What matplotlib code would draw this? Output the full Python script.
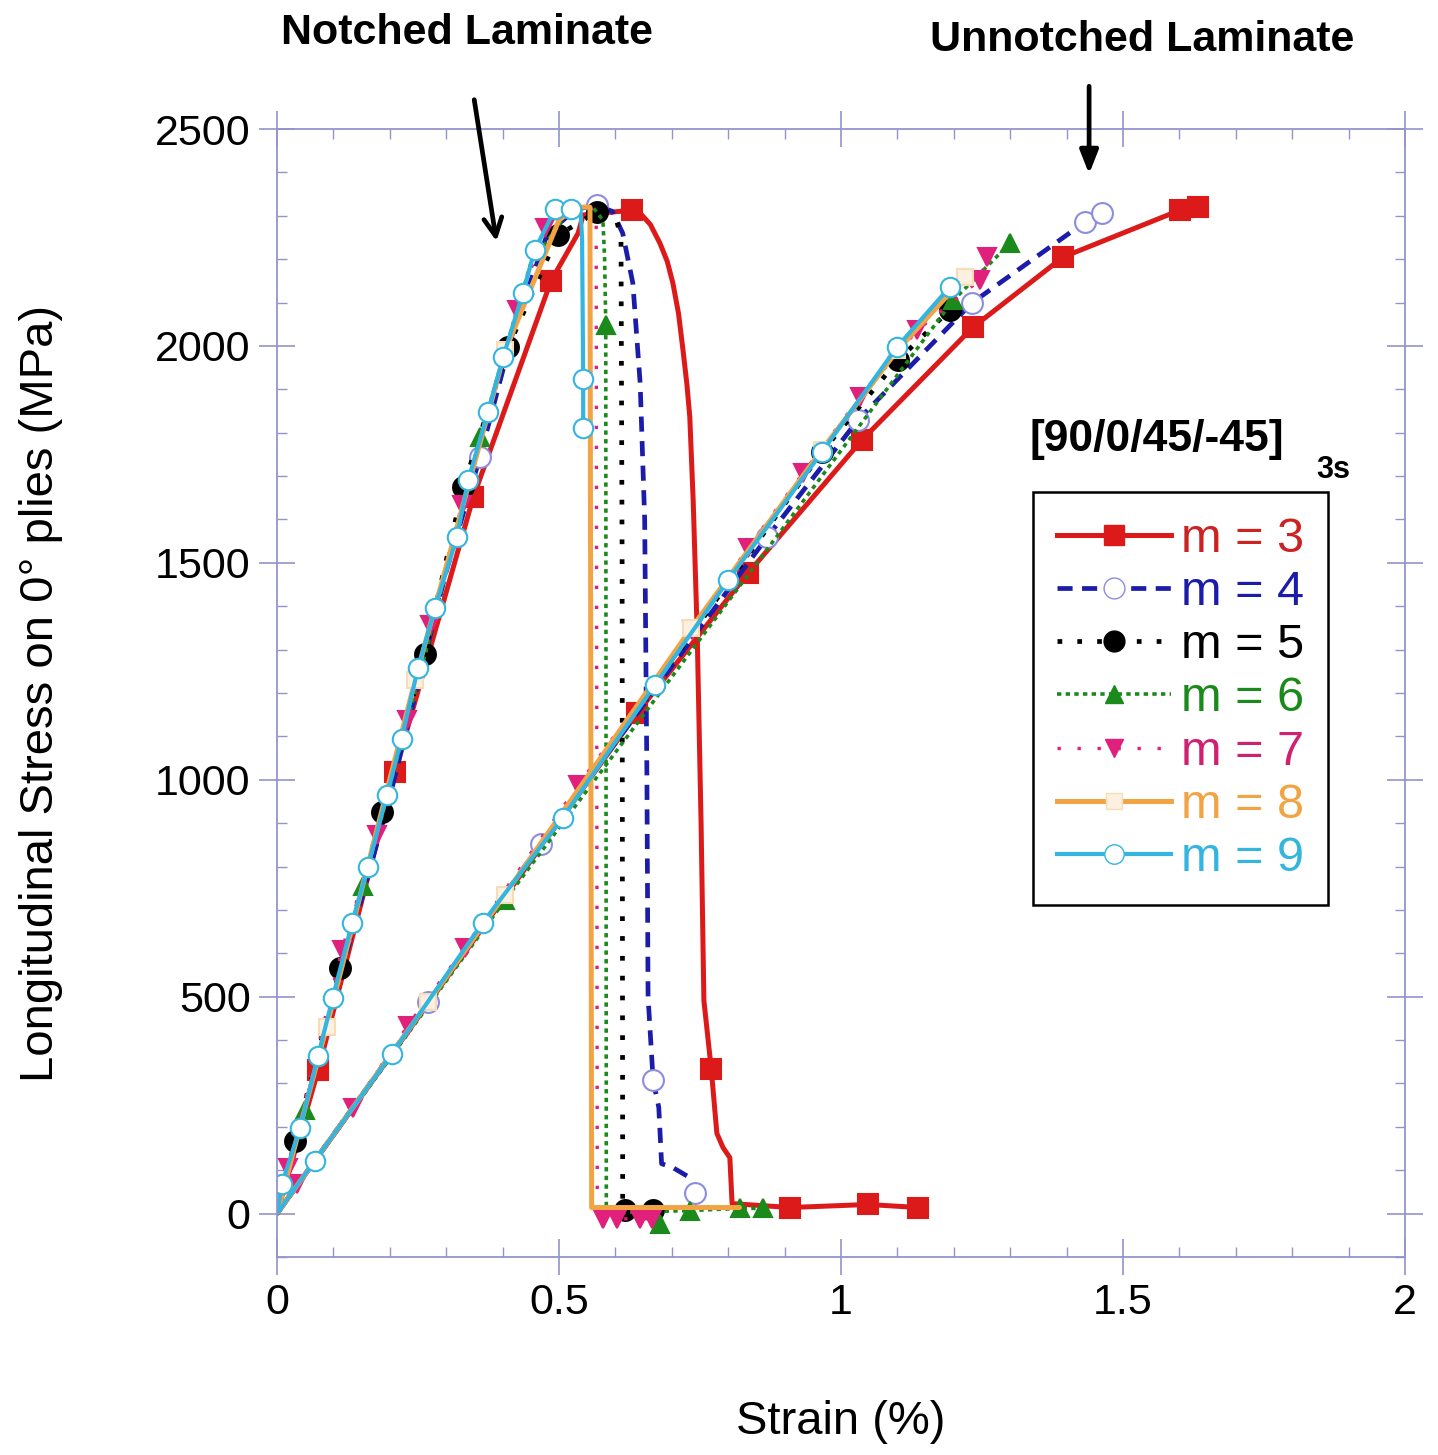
import matplotlib
matplotlib.use("Agg")
import matplotlib.pyplot as plt
from matplotlib.lines import Line2D
from matplotlib.ticker import MultipleLocator

plt.rcParams['font.family'] = ['Liberation Sans', 'DejaVu Sans']

# ---------------- data ----------------
labels = ["m = 3", "m = 4", "m = 5", "m = 6", "m = 7", "m = 8", "m = 9"]

# m = 3
m3_notch_x = [0, 0.073, 0.209, 0.348, 0.486, 0.534, 0.543, 0.629, 0.644, 0.662, 0.679, 0.692, 0.702, 0.712, 0.720, 0.727,
              0.732, 0.738, 0.745, 0.752, 0.757, 0.770, 0.780, 0.791, 0.803, 0.807, 0.910, 1.048, 1.137]
m3_notch_y = [0, 330, 1017, 1651, 2150, 2260, 2302, 2313, 2306, 2280, 2237, 2195, 2145, 2075, 1990, 1910,
              1836, 1644, 1345, 900, 491, 334, 185, 152, 129, 23, 14, 21, 14]
m3_notch_mx = [0.073, 0.209, 0.348, 0.486, 0.629, 0.770, 0.910, 1.048, 1.137]
m3_notch_my = [330, 1017, 1651, 2150, 2313, 334, 14, 21, 14]
m3_unnot_x = [0, 0.638, 0.835, 1.037, 1.234, 1.394, 1.601, 1.633]
m3_unnot_y = [0, 1153, 1476, 1783, 2043, 2205, 2313, 2320]

# m = 4
m4_notch_x = [0, 0.100, 0.200, 0.300, 0.360, 0.420, 0.480, 0.530, 0.567, 0.595, 0.613, 0.631, 0.644, 0.652,
              0.656, 0.658, 0.667, 0.677, 0.682, 0.702, 0.732, 0.741, 0.750]
m4_notch_y = [0, 490, 960, 1480, 1744, 2040, 2260, 2315, 2325, 2310, 2260, 2145, 1914, 1600,
              1000, 500, 307, 245, 115, 106, 83, 48, 10]
m4_notch_mx = [0.360, 0.567, 0.667, 0.741]
m4_notch_my = [1744, 2325, 307, 48]
m4_unnot_x = [0, 0.268, 0.468, 0.869, 1.030, 1.232, 1.433, 1.463]
m4_unnot_y = [0, 487, 853, 1559, 1829, 2099, 2286, 2306]

# m = 5
m5_notch_x = [0, 0.032, 0.112, 0.186, 0.262, 0.330, 0.410, 0.498, 0.567, 0.600, 0.610, 0.612, 0.613, 0.617, 0.667]
m5_notch_y = [0, 168, 565, 925, 1291, 1674, 1997, 2255, 2309, 2300, 2250, 1500, 10, 8, 8]
m5_notch_mx = [0.032, 0.112, 0.186, 0.262, 0.330, 0.410, 0.498, 0.567, 0.617, 0.667]
m5_notch_my = [168, 565, 925, 1291, 1674, 1997, 2255, 2309, 8, 8]
m5_unnot_x = [0, 0.966, 1.101, 1.193]
m5_unnot_y = [0, 1755, 1967, 2083]

# m = 6
m6_notch_x = [0, 0.050, 0.153, 0.265, 0.360, 0.450, 0.520, 0.560, 0.578, 0.581, 0.583, 0.584, 0.732, 0.821, 0.862]
m6_notch_y = [0, 238, 756, 1300, 1790, 2190, 2315, 2320, 2290, 2200, 2048, 2, 7, 12, 12]
m6_notch_mx = [0.050, 0.153, 0.360, 0.583, 0.679, 0.732, 0.821, 0.862]
m6_notch_my = [238, 756, 1790, 2048, -25, 7, 12, 12]
m6_unnot_x = [0, 0.404, 1.199, 1.300]
m6_unnot_y = [0, 722, 2105, 2237]

# m = 7
m7_notch_x = [0, 0.020, 0.115, 0.177, 0.230, 0.271, 0.328, 0.426, 0.475, 0.520, 0.550, 0.566, 0.568, 0.578, 0.603, 0.644, 0.665]
m7_notch_y = [0, 106, 607, 872, 1137, 1356, 1633, 2083, 2271, 2330, 2330, 2300, -12, -12, -12, -12, -12]
m7_notch_mx = [0.020, 0.115, 0.177, 0.230, 0.271, 0.328, 0.426, 0.475, 0.578, 0.603, 0.644, 0.665]
m7_notch_my = [106, 607, 872, 1137, 1356, 1633, 2083, 2271, -12, -12, -12, -12]
m7_unnot_x = [0, 0.035, 0.135, 0.232, 0.333, 0.534, 0.736, 0.835, 0.933, 1.034, 1.135, 1.246, 1.259]
m7_unnot_y = [0, 69, 244, 433, 613, 987, 1345, 1534, 1707, 1882, 2036, 2152, 2205]

# m = 8
m8_notch_x = [0, 0.088, 0.245, 0.405, 0.500, 0.530, 0.555, 0.558, 0.820]
m8_notch_y = [0, 430, 1230, 1990, 2290, 2320, 2320, 14, 14]
m8_notch_mx = [0.088, 0.245, 0.405]
m8_notch_my = [430, 1230, 1990]
m8_unnot_x = [0, 0.268, 0.404, 0.735, 0.966, 1.100, 1.220]
m8_unnot_y = [0, 487, 735, 1350, 1760, 1990, 2160]

# m = 9
m9_notch_x = [0, 0.009, 0.041, 0.073, 0.099, 0.133, 0.161, 0.195, 0.221, 0.250, 0.280, 0.319, 0.339, 0.374,
              0.401, 0.436, 0.457, 0.493, 0.521, 0.538, 0.541, 0.543, 0.543]
m9_notch_y = [0, 69, 198, 364, 498, 669, 798, 964, 1095, 1257, 1395, 1559, 1690, 1847,
              1974, 2122, 2221, 2315, 2315, 2315, 2250, 1923, 1811]
m9_notch_mx = m9_notch_x[1:19] + [0.543, 0.543]
m9_notch_my = m9_notch_y[1:19] + [1923, 1811]
m9_unnot_x = [0, 0.067, 0.204, 0.365, 0.507, 0.670, 0.800, 0.966, 1.099, 1.193]
m9_unnot_y = [0, 122, 369, 671, 913, 1218, 1460, 1755, 1997, 2136]

x_ticks = [0, 0.5, 1, 1.5, 2]
x_tick_labels = ["0", "0.5", "1", "1.5", "2"]
y_ticks = [0, 500, 1000, 1500, 2000, 2500]
y_tick_labels = ["0", "500", "1000", "1500", "2000", "2500"]

# ---------------- styles ----------------
styles = [
    dict(color='#dd1a1a', lw=3.6, ls='-', marker='s', ms=15, mfc='#dd1a1a', mec='#dd1a1a', text='#cc2222'),
    dict(color='#1c1caa', lw=3.4, ls=(0, (3.2, 2.0)), marker='o', ms=15, mfc='white', mec='#8c8ce0', text='#1c1caa'),
    dict(color='black', lw=3.4, ls=(0, (1.0, 3.2)), marker='o', ms=15, mfc='black', mec='black', text='black'),
    dict(color='#1a8a1a', lw=2.6, ls=(0, (1.2, 1.2)), marker='^', ms=13, mfc='#1a8a1a', mec='#1a8a1a', text='#1a8a1a'),
    dict(color='#e0207a', lw=2.4, ls=(0, (1.0, 5.0)), marker='v', ms=13, mfc='#e0207a', mec='#e0207a', text='#d02072'),
    dict(color='#f2a445', lw=3.6, ls='-', marker='s', ms=12, mfc='#fdf0e0', mec='#f7dcb8', text='#f2a445'),
    dict(color='#33b5e0', lw=3.0, ls='-', marker='o', ms=14, mfc='white', mec='#33b5e0', text='#33b5e0'),
]

series = [
    (m3_notch_x, m3_notch_y, m3_notch_mx, m3_notch_my, m3_unnot_x, m3_unnot_y),
    (m4_notch_x, m4_notch_y, m4_notch_mx, m4_notch_my, m4_unnot_x, m4_unnot_y),
    (m5_notch_x, m5_notch_y, m5_notch_mx, m5_notch_my, m5_unnot_x, m5_unnot_y),
    (m6_notch_x, m6_notch_y, m6_notch_mx, m6_notch_my, m6_unnot_x, m6_unnot_y),
    (m7_notch_x, m7_notch_y, m7_notch_mx, m7_notch_my, m7_unnot_x, m7_unnot_y),
    (m8_notch_x, m8_notch_y, m8_notch_mx, m8_notch_my, m8_unnot_x, m8_unnot_y),
    (m9_notch_x, m9_notch_y, m9_notch_mx, m9_notch_my, m9_unnot_x, m9_unnot_y),
]

fig = plt.figure(figsize=(14.38, 14.55), dpi=100)
ax = fig.add_axes([0.1926, 0.1361, 0.7844, 0.7752])

handles = []
for (nx, ny, mx, my, ux, uy), st, lab in zip(series, styles, labels):
    ax.plot(nx, ny, color=st['color'], lw=st['lw'], ls=st['ls'], dash_capstyle='butt', solid_capstyle='round')
    ax.plot(ux, uy, color=st['color'], lw=st['lw'], ls=st['ls'], dash_capstyle='butt', solid_capstyle='round')
    ax.plot(mx, my, ls='none', marker=st['marker'], ms=st['ms'], mfc=st['mfc'], mec=st['mec'], mew=1.5)
    ax.plot(ux[1:], uy[1:], ls='none', marker=st['marker'], ms=st['ms'], mfc=st['mfc'], mec=st['mec'], mew=1.5)
    handles.append(Line2D([], [], color=st['color'], lw=st['lw'], ls=st['ls'], marker=st['marker'],
                          ms=st['ms'], mfc=st['mfc'], mec=st['mec'], dash_capstyle='butt', label=lab))

ax.set_xlim(0, 2)
ax.set_ylim(-100, 2500)
ax.set_xticks(x_ticks)
ax.set_xticklabels(x_tick_labels)
ax.set_yticks(y_ticks)
ax.set_yticklabels(y_tick_labels)
ax.xaxis.set_minor_locator(MultipleLocator(0.1))
ax.yaxis.set_minor_locator(MultipleLocator(100))

spine_col = '#9494cc'
for s in ax.spines.values():
    s.set_color(spine_col)
    s.set_linewidth(1.3)
ax.tick_params(which='major', direction='inout', length=26, width=1.2, color=spine_col,
               top=True, right=True, labelsize=31, pad=6)
ax.tick_params(which='minor', direction='in', length=7, width=1.0, color=spine_col, top=True, right=True)

ax.set_xlabel("Strain (%)", fontsize=34, labelpad=55)
ax.set_ylabel("Longitudinal Stress on 0° plies (MPa)", fontsize=34, labelpad=66)

leg = ax.legend(handles=handles, loc='upper left', bbox_to_anchor=(0.670, 0.678), borderaxespad=0,
                fontsize=35, numpoints=1, handlelength=2.35, handletextpad=0.2, labelspacing=0.17,
                borderpad=0.5, fancybox=False, framealpha=1, edgecolor='black')
leg.get_frame().set_linewidth(1.8)
for t, st in zip(leg.get_texts(), styles):
    t.set_color(st['text'])

bold_narrow = ['Liberation Sans Narrow', 'Liberation Sans', 'DejaVu Sans']
fig.text(467 / 1438, 1 - 33 / 1455, "Notched Laminate", ha='center', va='center', fontsize=31,
         fontweight='bold', family=bold_narrow)
fig.text(1142 / 1438, 1 - 40 / 1455, "Unnotched Laminate", ha='center', va='center', fontsize=31,
         fontweight='bold', family=bold_narrow)
fig.text(1030 / 1438, 1 - 440 / 1455, "[90/0/45/-45]", ha='left', va='center', fontsize=32, fontweight='bold')
fig.text(1316 / 1438, 1 - 470 / 1455, "3s", ha='left', va='center', fontsize=22, fontweight='bold')

ax.annotate("", xy=(0.390, 2235), xytext=(0.349, 2574), xycoords='data', annotation_clip=False,
            arrowprops=dict(arrowstyle='->,head_length=1.3,head_width=0.65', lw=3.4, color='black'))
ax.annotate("", xy=(1.440, 2390), xytext=(1.440, 2605), xycoords='data', annotation_clip=False,
            arrowprops=dict(arrowstyle='-|>,head_length=1.4,head_width=0.55', lw=3.4, color='black'))

fig.savefig("out.png", dpi=100, facecolor='white')
